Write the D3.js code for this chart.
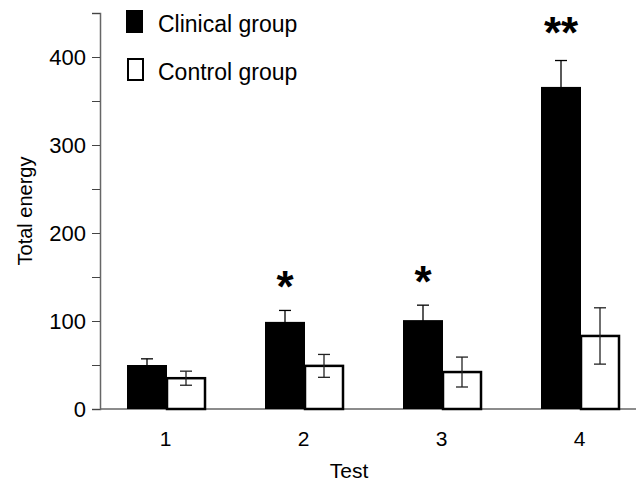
<!DOCTYPE html>
<html lang="en">
<head>
<meta charset="UTF-8"/>
<title>Total energy by test</title>
<script src="https://d3js.org/d3.v7.min.js"></script>
<style>
    body { margin: 0; background: white; }
    text { font-family: "Liberation Sans", Arial, sans-serif; fill: black; }
</style>
</head>
<body>
<script>
var w = 641;
var h = 484;

// data
var tests = ["1", "2", "3", "4"];
var clinical = [50, 99, 101, 366];
var clinicalErr = [7, 13, 17, 30];
var control = [35, 49, 42, 83];
var controlErr = [8, 13, 17, 32];
var stars = ["", "*", "*", "**"];
var yTicks = [0, 50, 100, 150, 200, 250, 300, 350, 400, 450];
var yLabels = [0, 100, 200, 300, 400];

var svg = d3.select("body")
    .append("svg")
    .attr("width", w)
    .attr("height", h);

var xScale = d3.scalePoint()
    .domain(tests)
    .range([167, 581]);

var yScale = d3.scaleLinear()
    .domain([0, 450])
    .range([409, 13]);

var barW = 40;

// y axis
var yAxis = d3.axisLeft(yScale)
    .tickValues(yTicks)
    .tickSize(8)
    .tickPadding(6)
    .tickFormat(function(d){ return yLabels.indexOf(d) >= 0 ? d : ""; });

var gy = svg.append("g")
    .attr("transform", "translate(100,0)")
    .call(yAxis);
gy.select(".domain").attr("stroke", "#666").attr("stroke-width", 1.5);
gy.selectAll(".tick line").attr("stroke", "#444");
gy.selectAll(".tick text")
    .attr("font-size", 22)
    .attr("font-family", "Liberation Sans, Arial, sans-serif")
    .attr("fill", "black");

// x axis baseline
svg.append("line")
    .attr("x1", 100)
    .attr("x2", 636)
    .attr("y1", yScale(0))
    .attr("y2", yScale(0))
    .attr("stroke", "#666")
    .attr("stroke-width", 1.5);

var xAxis = d3.axisBottom(xScale)
    .tickSize(0)
    .tickPadding(22);

var gx = svg.append("g")
    .attr("transform", "translate(-2," + yScale(0) + ")")
    .call(xAxis);
gx.select(".domain").remove();
gx.selectAll(".tick text")
    .attr("font-size", 21)
    .attr("font-family", "Liberation Sans, Arial, sans-serif")
    .attr("fill", "black");

// bars
svg.selectAll(".clin")
    .data(clinical)
    .enter()
    .append("rect")
    .attr("class", "clin")
    .attr("x", function(d, i){ return xScale(tests[i]) - barW; })
    .attr("y", function(d){ return yScale(d); })
    .attr("width", barW)
    .attr("height", function(d){ return yScale(0) - yScale(d); })
    .attr("fill", "black");

svg.selectAll(".ctrl")
    .data(control)
    .enter()
    .append("rect")
    .attr("class", "ctrl")
    .attr("x", function(d, i){ return xScale(tests[i]); })
    .attr("y", function(d){ return yScale(d); })
    .attr("width", barW - 2)
    .attr("height", function(d){ return yScale(0) - yScale(d); })
    .attr("fill", "white")
    .attr("stroke", "black")
    .attr("stroke-width", 2.5);

// error bars
function errorBars(vals, errs, offset, cls, color){
    var g = svg.selectAll("." + cls)
        .data(vals)
        .enter()
        .append("g")
        .attr("class", cls)
        .attr("stroke", color)
        .attr("stroke-width", 1.3);
    g.append("line")
        .attr("x1", function(d, i){ return xScale(tests[i]) + offset; })
        .attr("x2", function(d, i){ return xScale(tests[i]) + offset; })
        .attr("y1", function(d, i){ return yScale(d - errs[i]); })
        .attr("y2", function(d, i){ return yScale(d + errs[i]); });
    g.append("line")
        .attr("x1", function(d, i){ return xScale(tests[i]) + offset - 6; })
        .attr("x2", function(d, i){ return xScale(tests[i]) + offset + 6; })
        .attr("y1", function(d, i){ return yScale(d + errs[i]); })
        .attr("y2", function(d, i){ return yScale(d + errs[i]); });
    g.append("line")
        .attr("x1", function(d, i){ return xScale(tests[i]) + offset - 6; })
        .attr("x2", function(d, i){ return xScale(tests[i]) + offset + 6; })
        .attr("y1", function(d, i){ return yScale(d - errs[i]); })
        .attr("y2", function(d, i){ return yScale(d - errs[i]); });
}
errorBars(clinical, clinicalErr, -barW / 2, "errc", "black");
errorBars(control, controlErr, barW / 2 - 1, "errk", "#222");

// significance stars
svg.selectAll(".star")
    .data(stars)
    .enter()
    .append("text")
    .attr("class", "star")
    .attr("x", function(d, i){ return xScale(tests[i]) - barW / 2; })
    .attr("y", function(d, i){ return yScale(clinical[i] + clinicalErr[i]) - (d.length > 1 ? 13 : 8); })
    .attr("text-anchor", "middle")
    .attr("font-size", 44)
    .attr("font-weight", "bold")
    .text(function(d){ return d; });

// axis titles
svg.append("text")
    .attr("x", 349)
    .attr("y", 478)
    .attr("text-anchor", "middle")
    .attr("font-size", 21)
    .text("Test");

svg.append("text")
    .attr("transform", "translate(32,211) rotate(-90)")
    .attr("text-anchor", "middle")
    .attr("font-size", 20)
    .text("Total energy");

// legend
svg.append("rect")
    .attr("x", 126).attr("y", 10)
    .attr("width", 17).attr("height", 23)
    .attr("fill", "black");
svg.append("rect")
    .attr("x", 128).attr("y", 59)
    .attr("width", 15).attr("height", 21)
    .attr("fill", "white")
    .attr("stroke", "black")
    .attr("stroke-width", 2);
svg.append("text")
    .attr("x", 158).attr("y", 32)
    .attr("font-size", 23)
    .text("Clinical group");
svg.append("text")
    .attr("x", 158).attr("y", 80)
    .attr("font-size", 23)
    .text("Control group");
</script>
</body>
</html>
